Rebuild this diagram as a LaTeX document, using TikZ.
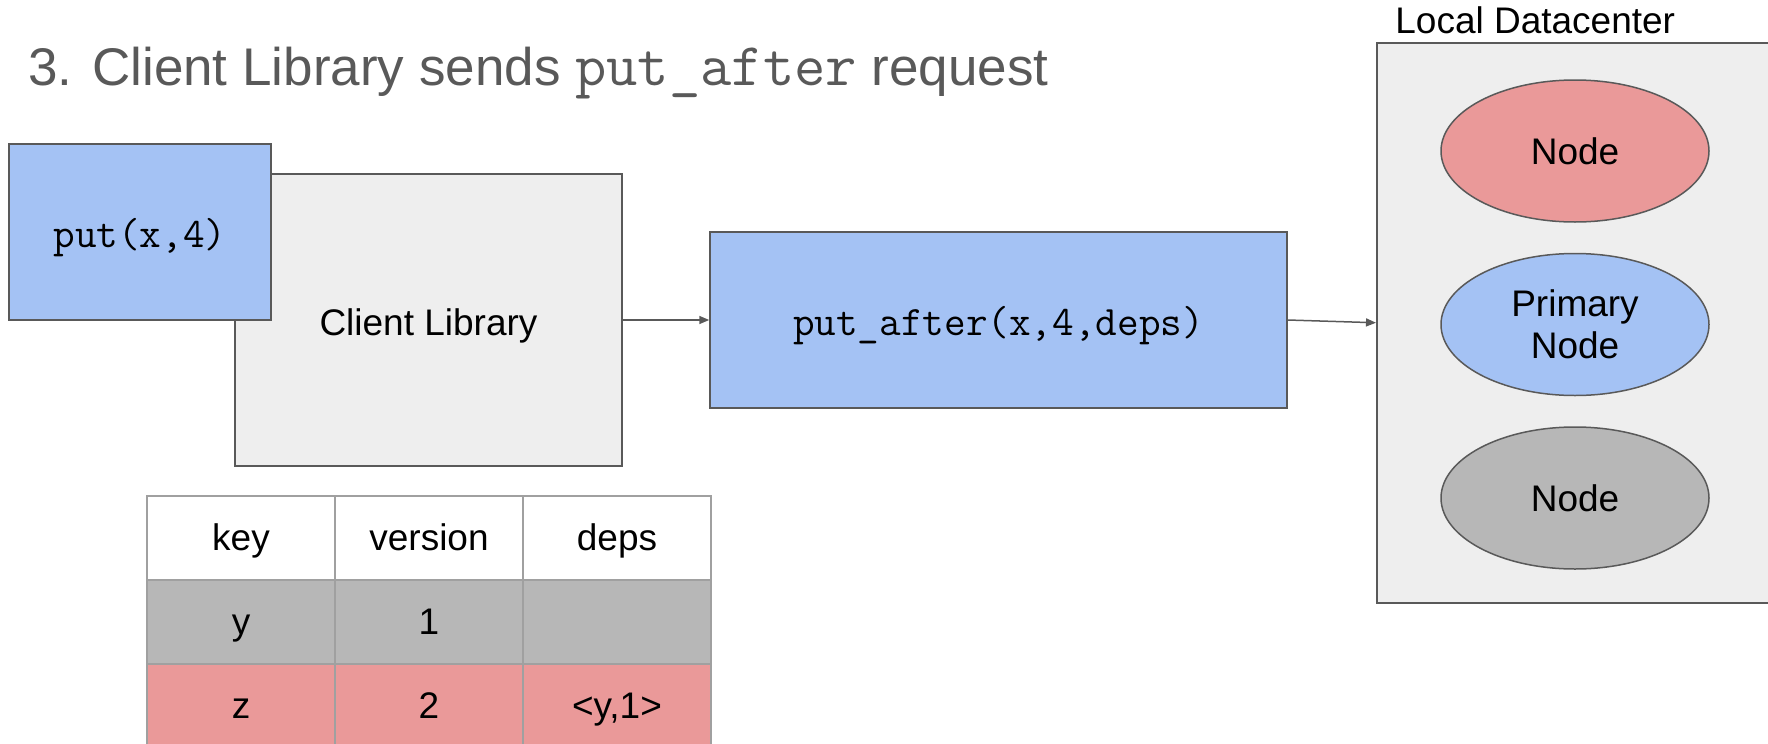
\documentclass[tikz,border=0pt]{standalone}
\usepackage{fontspec}
\setmainfont{Liberation Sans}
\usetikzlibrary{arrows.meta}
\usetikzlibrary{positioning}
\usetikzlibrary{shapes.geometric}

\definecolor{slideblue}{HTML}{A4C2F4}
\definecolor{slidered}{HTML}{EA9999}
\definecolor{slidegray}{HTML}{B7B7B7}
\definecolor{slidelight}{HTML}{EEEEEE}
\definecolor{slideline}{HTML}{595959}
\definecolor{gridline}{HTML}{A0A0A0}

% typewriter text, sized to the Courier width of the slide
\newcommand\code[2][21]{{\fontsize{#1}{#1}\selectfont\ttfamily #2}}

\tikzset{
  body/.style={font=\fontsize{18.5}{21}\selectfont},
  box/.style={draw=slideline, line width=0.75pt, inner sep=0pt,
    text height=15pt, text depth=0pt, body},
  dcnode/.style={ellipse, draw=slideline, line width=0.75pt, minimum width=134pt,
    minimum height=71pt, align=center, body},
  cell/.style={draw=gridline, line width=1pt, minimum width=94pt,
    minimum height=42pt, inner sep=0pt, text height=12pt, text depth=0pt, body},
  flow/.style={draw=slideline, line width=0.75pt, -{Triangle[length=5pt,width=4pt]}},
}

\begin{document}
\begin{tikzpicture}[x=0.5pt, y=-0.5pt]
  \useasboundingbox (0,0) rectangle (1768,744);

  % title
  \node[anchor=base west, inner sep=0pt, text=slideline,
    font=\fontsize{26.5}{30}\selectfont] (title) at (28,85)
    {3. Client Library sends \code[30.4]{put\_after} request};

  % client side
  \node[box, fill=slidelight, minimum width=193.5pt, minimum height=146pt] (client)
    at (428.5,320) {Client Library};
  \node[box, fill=slideblue, minimum width=131pt, minimum height=88pt] (put)
    at (140,232) {\code{put(x,4)}};
  \node[box, fill=slideblue, minimum width=288.5pt, minimum height=88pt] (request)
    at (998.5,320) {\code{put\_after(x,4,deps)}};

  % datacenter
  \node[box, fill=slidelight, minimum width=202pt, minimum height=280pt,
    anchor=north west] (dc) at (1376,42) {};
  \node[anchor=base west, inner sep=0pt, body] (dclabel) at (1395,33) {Local Datacenter};
  \node[dcnode, fill=slidered] (n1) at (1575,151) {Node};
  \node[dcnode, fill=slideblue, below=15pt of n1] (prim) {Primary\\Node};
  \node[dcnode, fill=slidegray, below=15pt of prim] (n3) {Node};

  \draw[flow] (client.east) -- (request.west);
  \draw[flow] (request.east) -- (dc.west);

  % dependency table
  \foreach \fillc/\a/\b/\c [count=\r] in
    {white/key/version/deps, slidegray/y/1/{}, slidered/z/2/{<y,1>}} {
    \node[cell, fill=\fillc] (t-\r-1) at (241,454+84*\r) {\a};
    \node[cell, fill=\fillc] (t-\r-2) at (429,454+84*\r) {\b};
    \node[cell, fill=\fillc] (t-\r-3) at (617,454+84*\r) {\c};
  }
\end{tikzpicture}
\end{document}
